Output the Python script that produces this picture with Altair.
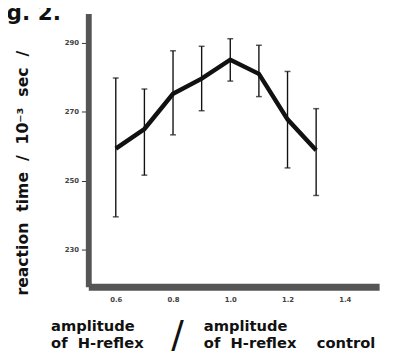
import altair as alt
import pandas as pd

ratio = [0.6, 0.7, 0.8, 0.9, 1.0, 1.1, 1.2, 1.3]
rt_mean = [259.3, 265.0, 275.2, 279.6, 285.1, 281.0, 267.8, 258.8]
rt_upper = [279.8, 276.6, 287.7, 289.0, 291.2, 289.3, 281.7, 270.9]
rt_lower = [239.5, 251.6, 263.3, 270.3, 278.9, 274.4, 253.7, 245.7]

x_ticks = [0.6, 0.8, 1.0, 1.2, 1.4]
y_ticks = [230, 250, 270, 290]

df = pd.DataFrame({"ratio": ratio, "mean": rt_mean, "upper": rt_upper, "lower": rt_lower})

FONT = "DejaVu Sans"
S = "\u00a0"

xs = alt.Scale(domain=[0.504, 1.52], nice=False, zero=False)
ys = alt.Scale(domain=[219.2, 298.5], nice=False, zero=False)

x_axis = alt.Axis(values=x_ticks, format=".1f", title=None, grid=False, ticks=False,
                  domainColor="#555555", domainWidth=7, labelFontSize=7, labelFont=FONT,
                  labelFontWeight="bold", labelColor="#444444", labelPadding=9)
y_axis = alt.Axis(values=y_ticks, format="d", title=None, grid=False, tickSize=7,
                  tickColor="#333333", tickWidth=1, domainColor="#555555", domainWidth=6,
                  labelFontSize=7, labelFont=FONT, labelFontWeight="bold",
                  labelColor="#444444", labelPadding=3)

base = alt.Chart(df)
X = alt.X("ratio:Q", scale=xs, axis=x_axis)

bars = base.mark_rule(color="#111111", strokeWidth=1.4).encode(
    x=X, y=alt.Y("lower:Q", scale=ys, axis=y_axis), y2="upper:Q")
cap_hi = base.mark_tick(color="#111111", thickness=1.5, size=6, orient="horizontal").encode(
    x=X, y=alt.Y("upper:Q", scale=ys, axis=y_axis))
cap_lo = base.mark_tick(color="#111111", thickness=1.5, size=6, orient="horizontal").encode(
    x=X, y=alt.Y("lower:Q", scale=ys, axis=y_axis))
line = base.mark_line(color="#111111", strokeWidth=4.5).encode(
    x=X, y=alt.Y("mean:Q", scale=ys, axis=y_axis))

def txt(text, x, y, size=13, angle=0, align="left", weight="bold", baseline="middle"):
    return alt.Chart(pd.DataFrame({"t": [text]})).mark_text(
        font=FONT, fontSize=size, fontWeight=weight, align=align, baseline=baseline,
        angle=angle, color="#111111"
    ).encode(text="t:N", x=alt.value(x), y=alt.value(y))

ytitle = txt(f"reaction{S*2}time{S*2}/{S*2}10⁻³{S*2}sec{S*2}/", -67, 163, size=16,
             angle=270, align="center")
xl1 = txt("amplitude", -38, 319, size=15)
xl2 = txt(f"of{S*2}H-reflex", -38, 337, size=15)
xr1 = txt("amplitude", 118, 319, size=15)
xr2 = txt(f"of{S*2}H-reflex{S*4}control", 118, 337, size=15)
slash = txt("/", 91, 329, size=38, align="center", weight="normal")
fig = txt("Fig. 2.", -28, 7, size=22, align="right", baseline="alphabetic")

chart = alt.layer(bars, cap_hi, cap_lo, line, ytitle, xl1, xl2, xr1, xr2, slash, fig).properties(
    width=297, height=279,
    background="white",
    autosize=alt.AutoSizeParams(type="none"),
    padding={"left": 82, "top": 2, "right": 6, "bottom": 67},
).configure_view(strokeWidth=0).configure_axis(domainWidth=6, domainColor="#555555")

chart.save("out.html", embed_options={"renderer": "svg", "actions": False})
